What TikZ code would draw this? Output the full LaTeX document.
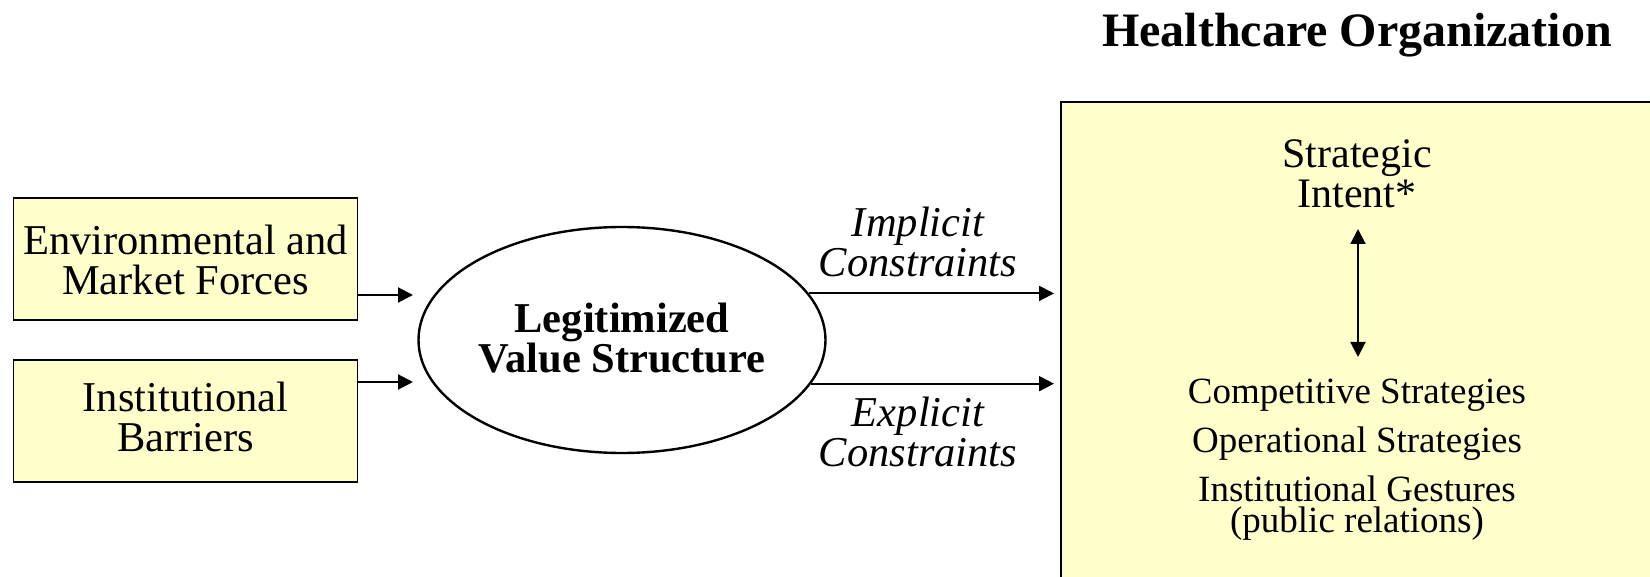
\documentclass[tikz,border=0pt]{standalone}
\usepackage{fontspec}
\setmainfont{Liberation Serif}
\usetikzlibrary{shapes.geometric,arrows.meta}
\definecolor{paleyellow}{RGB}{255,255,204}
\tikzset{
  ybox/.style={draw=black, line width=1.6pt, fill=paleyellow, minimum width=344pt, minimum height=122pt, inner sep=0pt},
  lbl/.style={align=center, inner sep=0pt},
  boxtext/.style={lbl, font=\fontsize{42.5}{40}\selectfont},
  conn/.style={line width=2pt, -{Triangle[length=15pt,width=15pt]}},
  dconn/.style={line width=2pt, {Triangle[length=15pt,width=15pt]}-{Triangle[length=15pt,width=15pt]}},
}
\begin{document}
\begin{tikzpicture}[x=1pt,y=-1pt]
\useasboundingbox (0,0) rectangle (1650,577);
\clip (0,0) rectangle (1650,577);
\fill[white] (0,0) rectangle (1650,577);
% big organization box
\node[draw=black, line width=1.6pt, fill=paleyellow, minimum width=700pt, minimum height=600pt, anchor=north west, inner sep=0pt] (org) at (1060,101) {};
\node[lbl, font=\fontsize{48}{48}\selectfont\bfseries] (title) at (1357,35) {Healthcare Organization};
% left boxes
\node[ybox] (env) at (185.5,259) {};
\node[boxtext] (envt) at (185.5,260) {Environmental and\\Market Forces};
\node[ybox] (inst) at (185.5,421) {};
\node[boxtext] (instt) at (185.5,417) {Institutional\\Barriers};
% ellipse
\node[ellipse, draw=black, line width=2.4pt, fill=white, minimum width=407pt, minimum height=226pt, inner sep=0pt] (ell) at (622,340) {};
\node[lbl, font=\fontsize{42.5}{40}\selectfont\bfseries] (ellt) at (622,338) {Legitimized\\Value Structure};
% constraint labels
\node[lbl, font=\fontsize{42.5}{40}\selectfont\itshape] (impl) at (918,242) {Implicit\\Constraints};
\node[lbl, font=\fontsize{42.5}{40}\selectfont\itshape] (expl) at (918,432) {Explicit\\Constraints};
% right box texts
\node[lbl, font=\fontsize{42}{40}\selectfont] (si) at (1357,174) {Strategic\\Intent*};
\node[lbl, font=\fontsize{37}{37}\selectfont] (cs) at (1357,395) {Competitive Strategies};
\node[lbl, font=\fontsize{37}{37}\selectfont] (os) at (1357,444) {Operational Strategies};
\node[lbl, font=\fontsize{37}{37}\selectfont, anchor=base] (ig) at (1357,501.3) {Institutional Gestures};
\node[lbl, font=\fontsize{37}{37}\selectfont, anchor=base] (pr) at (1357,532.3) {(public relations)};
% connector end points
\coordinate (e1) at (413,295);
\coordinate (e2) at (413,382);
\coordinate (a1) at (env.east |- e1);
\coordinate (a2) at (inst.east |- e2);
\coordinate (b1) at (ell.14.6);
\coordinate (b2) at (ell.-13.6);
\coordinate (d1) at (1358,229);
\coordinate (d2) at (1358,357);
% connectors
\draw[conn] (a1) -- (e1);
\draw[conn] (a2) -- (e2);
\draw[conn, shorten >=6pt] (b1) -- (b1 -| org.west);
\draw[conn, shorten >=6pt] (b2) -- (b2 -| org.west);
\draw[dconn] (d1) -- (d2);
\end{tikzpicture}
\end{document}
